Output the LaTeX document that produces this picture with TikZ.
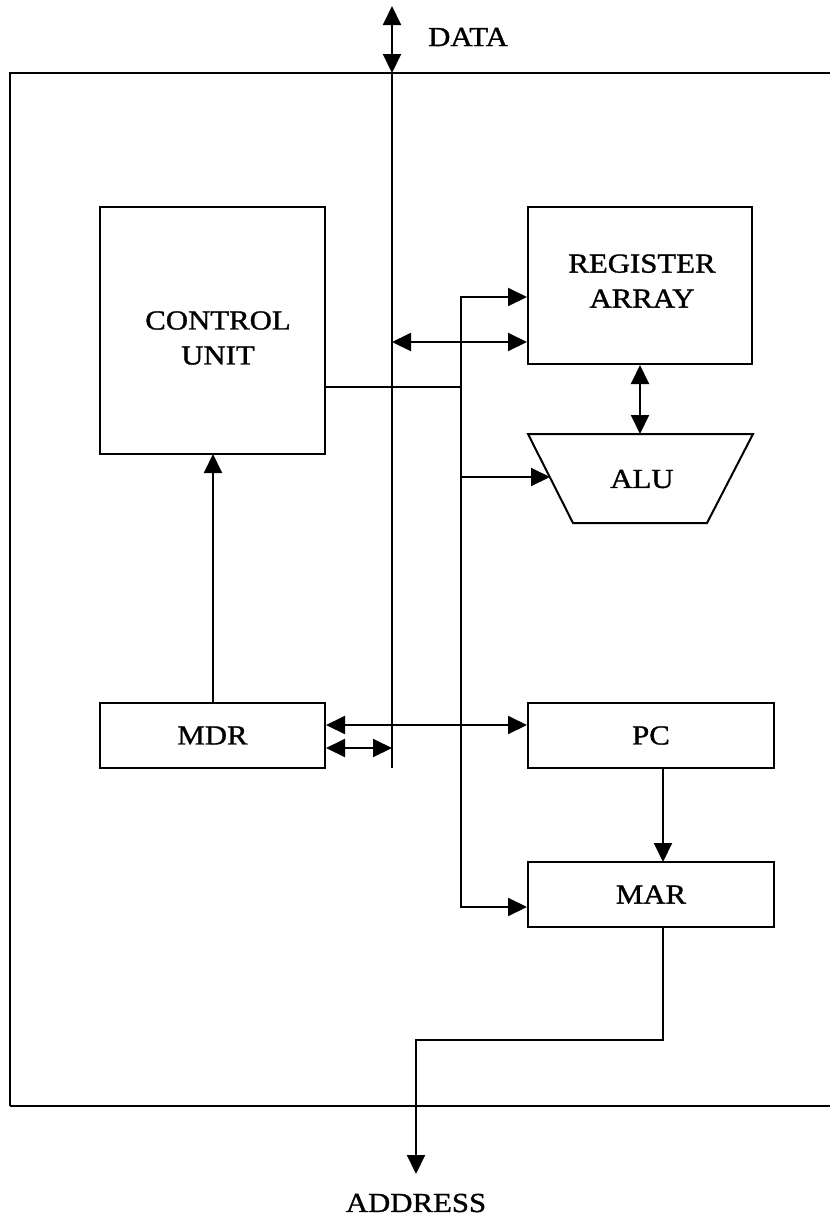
\documentclass[tikz,border=0pt]{standalone}
\usepackage{fontspec}
\setmainfont{Liberation Serif}[FakeStretch=1.12,FakeBold=1.2]
\usetikzlibrary{arrows.meta}
\begin{document}
\begin{tikzpicture}[x=1pt,y=-1pt,
  wire/.style={line width=2pt},
  tip/.tip={Triangle[length=19pt,width=18pt]},
  box/.style={draw,line width=2pt,inner sep=0pt,align=center,
    font=\fontsize{27.5}{35}\selectfont},
  lbl/.style={inner sep=0pt,align=center,font=\fontsize{27.5}{35}\selectfont}]
\useasboundingbox (0,0) rectangle (830,1219);
% outer frame of the processor
\draw[wire] (10,1106) -- (10,73) -- (832,73);
\draw[wire] (10,1106) -- (832,1106);

% functional blocks
\node[box,minimum width=225pt,minimum height=247pt] (cu) at (212.5,330.5) {};
\node[lbl] (cutext) at (218,338) {CONTROL\\UNIT};
\node[box,minimum width=224pt,minimum height=157pt] (reg) at (640,285.5) {};
\node[lbl] (regtext) at (642,281) {REGISTER\\ARRAY};
\node[box,minimum width=225pt,minimum height=65pt] (mdr) at (212.5,735.5) {MDR};
\node[box,minimum width=246pt,minimum height=65pt] (pc) at (651,735.5) {PC};
\node[box,minimum width=246pt,minimum height=65pt] (mar) at (651,894.5) {MAR};

% ALU trapezoid
\coordinate (aluTL) at (528,434);
\coordinate (aluTR) at (753,434);
\coordinate (aluBR) at (707,523);
\coordinate (aluBL) at (573,523);
\draw[wire,line join=miter] (aluTL) -- (aluTR) -- (aluBR) -- (aluBL) -- cycle;
\node[lbl] (alu) at (642,479) {ALU};
\coordinate (aluIn) at (550,477);
\coordinate (aluTop) at (640,434);

% data bus
\coordinate (dTop) at (392,6);
\coordinate (dFrame) at (392,73);
\coordinate (dEnd) at (392,768);
\draw[wire,{tip}-{tip}] (dFrame) -- (dTop);
\draw[wire] (dFrame) -- (dEnd);
\node[lbl,anchor=west] (data) at (428,37) {DATA};

% control line
\coordinate (cJoin) at (461,387);
\coordinate (cTop) at (461,297);
\coordinate (cBot) at (461,907);
\draw[wire] (cu.east |- cJoin) -- (cJoin);
\draw[wire,line cap=rect] (cTop) -- (cBot);
\draw[wire,-{tip}] (cTop) -- (reg.west |- cTop);
\draw[wire,-{tip}] (461,477) -- (aluIn);
\draw[wire,-{tip}] (cBot) -- (mar.west |- cBot);

% bus to register array
\draw[wire,{tip}-{tip}] (392,342) -- (reg.west |- 0,342);
% register array to ALU
\draw[wire,{tip}-{tip}] (reg.south -| aluTop) -- (aluTop);

% MDR connections
\draw[wire,{tip}-{tip}] (mdr.east |- 0,725) -- (pc.west |- 0,725);
\draw[wire,{tip}-{tip}] (mdr.east |- 0,748) -- (392,748);
\draw[wire,-{tip}] (213,703) -- (213,454);

% PC to MAR
\draw[wire,-{tip}] (663,768) -- (663,862);

% address output
\coordinate (aBend1) at (663,1040);
\coordinate (aBend2) at (416,1040);
\coordinate (aTip) at (416,1174);
\draw[wire,-{tip}] (663,927) -- (aBend1) -- (aBend2) -- (aTip);
\node[lbl] (addr) at (416,1203) {ADDRESS};
\end{tikzpicture}
\end{document}
